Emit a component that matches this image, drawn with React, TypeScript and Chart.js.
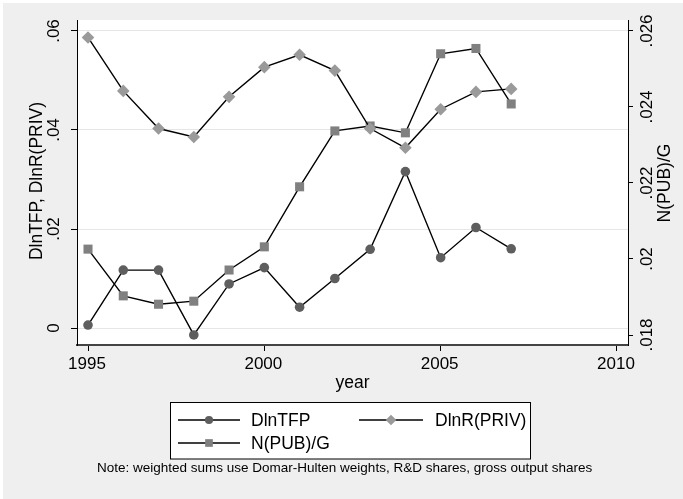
import React, { useEffect, useRef } from "react";
import { Chart, registerables } from "chart.js";
import { drawPoint } from "chart.js/helpers";

Chart.register(...registerables);

const years = [1995, 1996, 1997, 1998, 1999, 2000, 2001, 2002, 2003, 2004, 2005, 2006, 2007];
const dlnTFP = [0.0006, 0.0117, 0.0117, -0.0014, 0.0089, 0.0122, 0.0042, 0.0100, 0.0159, 0.0316, 0.0142, 0.0203, 0.0160];
const dlnRPriv = [0.0587, 0.0479, 0.0403, 0.0386, 0.0467, 0.0527, 0.0552, 0.0520, 0.0403, 0.0364, 0.0442, 0.0477, 0.0483];
const nPubG = [0.02026, 0.01903, 0.01881, 0.01889, 0.01971, 0.02032, 0.0219, 0.02337, 0.0235, 0.02332, 0.0254, 0.02554, 0.02408];

const xTicks = [1995, 2000, 2005, 2010];
const xTickLabels = ["1995", "2000", "2005", "2010"];
const yTicks = [0, 0.02, 0.04, 0.06];
const yTickLabels = ["0", ".02", ".04", ".06"];
const y1Ticks = [0.018, 0.02, 0.022, 0.024, 0.026];
const y1TickLabels = [".018", ".02", ".022", ".024", ".026"];

const seriesLabels = ["DlnTFP", "DlnR(PRIV)", "N(PUB)/G"];
const xTitle = "year";
const yTitle = "DlnTFP, DlnR(PRIV)";
const y1Title = "N(PUB)/G";
const noteText = "Note: weighted sums use Domar-Hulten weights, R&D shares, gross output shares";

const FONT = '"Liberation Sans", Arial, Helvetica, sans-serif';
const BG = "#efefef";

const stataPlugin = {
  id: "stataDecor",
  beforeDraw(chart: any) {
    const { ctx, width, height, chartArea } = chart;
    ctx.save();
    ctx.fillStyle = "#ffffff";
    ctx.fillRect(0, 0, width, height);
    ctx.fillStyle = BG;
    ctx.fillRect(3, 3, width - 3, height - 3);
    ctx.fillStyle = "#ffffff";
    ctx.fillRect(chartArea.left, chartArea.top, chartArea.right - chartArea.left, chartArea.bottom - chartArea.top);
    ctx.restore();
  },
  afterDraw(chart: any) {
    const { ctx, chartArea } = chart;
    const xs = chart.scales.x;
    const ys = chart.scales.y;
    const y1s = chart.scales.y1;
    ctx.save();
    ctx.fillStyle = "#000";
    ctx.font = `17px ${FONT}`;
    ctx.textBaseline = "alphabetic";
    ctx.textAlign = "center";
    xTicks.forEach((v, i) => {
      ctx.fillText(xTickLabels[i], xs.getPixelForValue(v) - 1, 369);
    });
    ctx.font = `17.5px ${FONT}`;
    ctx.fillText(xTitle, (chartArea.left + chartArea.right) / 2, 388);
    const vText = (t: string, x: number, y: number) => {
      ctx.save();
      ctx.translate(x, y);
      ctx.rotate(-Math.PI / 2);
      ctx.fillText(t, 0, 0);
      ctx.restore();
    };
    ctx.font = `17px ${FONT}`;
    yTicks.forEach((v, i) => vText(yTickLabels[i], 59, ys.getPixelForValue(v)));
    y1Ticks.forEach((v, i) => vText(y1TickLabels[i], 652, y1s.getPixelForValue(v)));
    ctx.font = `17.5px ${FONT}`;
    vText(yTitle, 42, 181);
    vText(y1Title, 670, 183);

    ctx.fillStyle = "#ffffff";
    ctx.fillRect(170.5, 402.5, 360, 56.5);
    ctx.strokeStyle = "#000";
    ctx.lineWidth = 1;
    ctx.strokeRect(170.5, 402.5, 360, 56.5);
    const items = [
      { x0: 178, x1: 240, y: 420, tx: 251, ty: 426 },
      { x0: 359, x1: 423, y: 420, tx: 435, ty: 426 },
      { x0: 178, x1: 240, y: 443, tx: 251, ty: 449 },
    ];
    chart.data.datasets.forEach((ds: any, i: number) => {
      const it = items[i];
      ctx.strokeStyle = ds.borderColor;
      ctx.lineWidth = ds.borderWidth;
      ctx.beginPath();
      ctx.moveTo(it.x0, it.y);
      ctx.lineTo(it.x1, it.y);
      ctx.stroke();
      ctx.fillStyle = ds.pointBackgroundColor;
      ctx.strokeStyle = ds.pointBackgroundColor;
      drawPoint(ctx, { pointStyle: ds.pointStyle, radius: ds.pointRadius * 0.85, borderWidth: 0, rotation: 0 }, (it.x0 + it.x1) / 2, it.y);
      ctx.fillStyle = "#000";
      ctx.textAlign = "left";
      ctx.font = `17.5px ${FONT}`;
      ctx.fillText(ds.label, it.tx, it.ty);
    });

    ctx.font = `13.5px ${FONT}`;
    ctx.textAlign = "left";
    ctx.fillStyle = "#000";
    ctx.fillText(noteText, 97, 472);
    ctx.restore();
  },
};

export default function App() {
  const ref = useRef<HTMLCanvasElement | null>(null);
  useEffect(() => {
    document.body.style.margin = "0";
    const canvas = ref.current!;
    const fixTicks = (vals: number[]) => (scale: any) => {
      scale.ticks = vals.map((v) => ({ value: v }));
    };
    const chart = new Chart(canvas, {
      type: "line",
      data: {
        datasets: [
          {
            label: seriesLabels[0],
            data: years.map((x, i) => ({ x, y: dlnTFP[i] })),
            yAxisID: "y",
            borderColor: "#000000",
            borderWidth: 1.4,
            pointStyle: "circle",
            pointRadius: 4.8,
            pointBackgroundColor: "#5e5e5e",
            pointBorderColor: "#5e5e5e",
            pointBorderWidth: 0,
            tension: 0,
          },
          {
            label: seriesLabels[1],
            data: years.map((x, i) => ({ x, y: dlnRPriv[i] })),
            yAxisID: "y",
            borderColor: "#000000",
            borderWidth: 1.4,
            pointStyle: "rectRot",
            pointRadius: 6.3,
            pointBackgroundColor: "#9a9a9a",
            pointBorderColor: "#9a9a9a",
            pointBorderWidth: 0,
            tension: 0,
          },
          {
            label: seriesLabels[2],
            data: years.map((x, i) => ({ x, y: nPubG[i] })),
            yAxisID: "y1",
            borderColor: "#000000",
            borderWidth: 1.4,
            pointStyle: "rect",
            pointRadius: 6.4,
            pointBackgroundColor: "#808080",
            pointBorderColor: "#808080",
            pointBorderWidth: 0,
            tension: 0,
          },
        ] as any,
      },
      options: {
        animation: false,
        responsive: false,
        devicePixelRatio: 1,
        layout: { padding: { top: 20, left: 0, right: 0, bottom: 0 } },
        plugins: { legend: { display: false }, tooltip: { enabled: false } },
        scales: {
          x: {
            type: "linear",
            position: "bottom",
            min: 1994.688,
            max: 2010.312,
            afterBuildTicks: fixTicks(xTicks),
            afterFit: (s: any) => { s.height = 154; },
            ticks: { display: false },
            grid: { drawOnChartArea: false, drawTicks: true, tickLength: 6, tickColor: "#000", tickWidth: 1 },
            border: { display: true, color: "#444", width: 2 },
          },
          y: {
            type: "linear",
            position: "left",
            min: -0.003434,
            max: 0.062222,
            afterBuildTicks: fixTicks(yTicks),
            afterFit: (s: any) => { s.width = 77; },
            ticks: { display: false },
            grid: { color: "#e6e6e6", lineWidth: 1, drawTicks: true, tickLength: 6, tickColor: "#000", tickWidth: 1 },
            border: { display: true, color: "#000", width: 1 },
          },
          y1: {
            type: "linear",
            position: "right",
            min: 0.017737,
            max: 0.026289,
            afterBuildTicks: fixTicks(y1Ticks),
            afterFit: (s: any) => { s.width = 55; },
            ticks: { display: false },
            grid: { drawOnChartArea: false, drawTicks: true, tickLength: 5, tickColor: "#000", tickWidth: 1 },
            border: { display: true, color: "#000", width: 1 },
          },
        } as any,
      },
      plugins: [stataPlugin],
    });
    return () => chart.destroy();
  }, []);
  return <canvas ref={ref} width={683} height={499} style={{ display: "block", width: 683, height: 499 }} />;
}
